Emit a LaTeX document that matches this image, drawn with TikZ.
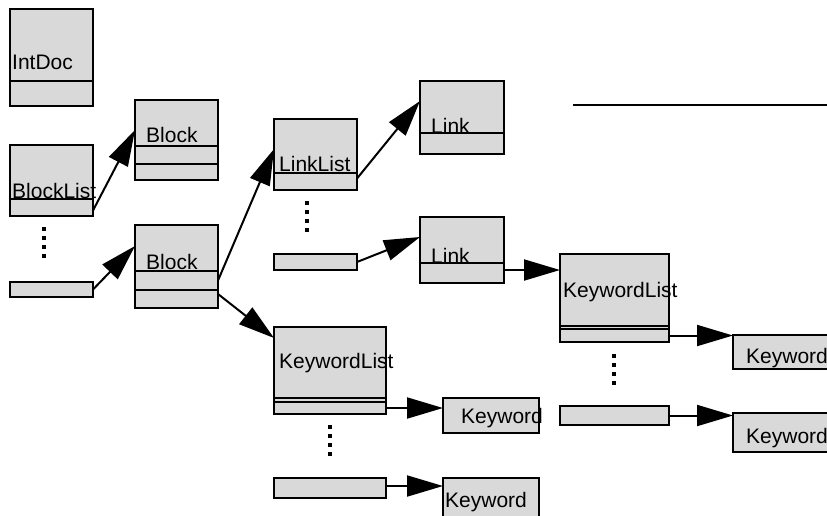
\documentclass[tikz,border=0pt]{standalone}
\usepackage{fontspec}
\setmainfont{Liberation Sans}
\usetikzlibrary{arrows.meta}
\tikzset{cell/.style={fill=black!15, anchor=north west, inner sep=0pt, outer sep=0pt}}
\tikzset{rim/.style={draw=black, line width=2.4pt}}
\tikzset{lbl/.style={anchor=base west, inner sep=0pt, font=\fontsize{21}{25}\selectfont}}
\tikzset{arr/.style={draw, line width=2pt, -{Triangle[length=36pt,width=21pt]}}}

\begin{document}
\begin{tikzpicture}[x=1pt,y=-1pt]
    \useasboundingbox (0,0) rectangle (827,515);
    \clip (0,0) rectangle (827,515);

    % IntDoc and its list of blocks
    \node[cell, minimum width=83pt, minimum height=72pt] (intdoc) at (10,9) {};
    \node[cell, minimum width=83pt, minimum height=25pt] (intdoc-s) at (10,81) {};
    \node[cell, minimum width=83pt, minimum height=54pt] (blist) at (10,145) {};
    \node[cell, minimum width=83pt, minimum height=17pt] (blist-s) at (10,199) {};
    \node[cell, minimum width=83pt, minimum height=15pt] (elemA) at (10,282) {};

    % blocks
    \node[cell, minimum width=83pt, minimum height=46pt] (blockA) at (135,100) {};
    \node[cell, minimum width=83pt, minimum height=18pt] (blockA-s1) at (135,146) {};
    \node[cell, minimum width=83pt, minimum height=16pt] (blockA-s2) at (135,164) {};
    \node[cell, minimum width=83pt, minimum height=46pt] (blockB) at (135,225) {};
    \node[cell, minimum width=83pt, minimum height=19pt] (blockB-s1) at (135,271) {};
    \node[cell, minimum width=83pt, minimum height=18pt] (blockB-s2) at (135,290) {};

    % links
    \node[cell, minimum width=83pt, minimum height=54pt] (llist) at (274,119) {};
    \node[cell, minimum width=83pt, minimum height=17pt] (llist-s) at (274,173) {};
    \node[cell, minimum width=83pt, minimum height=16pt] (elemB) at (274,254) {};
    \node[cell, minimum width=84pt, minimum height=52pt] (linkA) at (420,81) {};
    \node[cell, minimum width=84pt, minimum height=21pt] (linkA-s) at (420,133) {};
    \node[cell, minimum width=84pt, minimum height=46pt] (linkB) at (420,217) {};
    \node[cell, minimum width=84pt, minimum height=20pt] (linkB-s) at (420,263) {};

    % keywords of the block
    \node[cell, minimum width=112pt, minimum height=71pt] (kwlA) at (274,327) {};
    \node[cell, minimum width=112pt, minimum height=4pt] (kwlA-d) at (274,398) {};
    \node[cell, minimum width=112pt, minimum height=12pt] (kwlA-s) at (274,402) {};
    \node[cell, minimum width=112pt, minimum height=20pt] (elemC) at (274,478) {};
    \node[cell, minimum width=96pt, minimum height=35pt] (kwA) at (443,398) {};
    \node[cell, minimum width=96pt, minimum height=42pt] (kwB) at (443,478) {};

    % keywords of the link
    \node[cell, minimum width=109pt, minimum height=72pt] (kwlB) at (560,254) {};
    \node[cell, minimum width=109pt, minimum height=3pt] (kwlB-d) at (560,326) {};
    \node[cell, minimum width=109pt, minimum height=13pt] (kwlB-s) at (560,329) {};
    \node[cell, minimum width=109pt, minimum height=19pt] (elemD) at (560,406) {};
    \node[cell, minimum width=120pt, minimum height=34pt] (kwC) at (733,335) {};
    \node[cell, minimum width=120pt, minimum height=39pt] (kwD) at (733,413) {};

    % labels
    \node[lbl] (intdoc-l) at (12,69) {IntDoc};
    \node[lbl] (blist-l) at (12,198) {BlockList};
    \node[lbl] (blockA-l) at (146,142) {Block};
    \node[lbl] (blockB-l) at (146,269) {Block};
    \node[lbl] (llist-l) at (279,171) {LinkList};
    \node[lbl] (linkA-l) at (431,133) {Link};
    \node[lbl] (linkB-l) at (431,263) {Link};
    \node[lbl] (kwlA-l) at (279,368) {KeywordList};
    \node[lbl] (kwA-l) at (461,423) {Keyword};
    \node[lbl] (kwB-l) at (445,507) {Keyword};
    \node[lbl] (kwlB-l) at (563,297) {KeywordList};
    \node[lbl] (kwC-l) at (746,363) {Keyword};
    \node[lbl] (kwD-l) at (746,443) {Keyword};

    % outlines over the labels
    \foreach \n in {intdoc,intdoc-s,blist,blist-s,elemA,blockA,blockA-s1,blockA-s2,
        blockB,blockB-s1,blockB-s2,llist,llist-s,elemB,linkA,linkA-s,linkB,linkB-s,
        kwlA,kwlA-d,kwlA-s,elemC,kwA,kwB,kwlB,kwlB-d,kwlB-s,elemD,kwC,kwD}
        \draw[rim] (\n.north west) rectangle (\n.south east);

    % elided list entries
    \foreach \x/\y in {44/229, 307/203, 330/427, 614/356}
        \foreach \k in {0,...,3}
            \fill ({\x-1.6},{\y+9*\k-1.6}) rectangle ++(3.2,3.2);

    % pointers
    \draw[arr] ([yshift=-3pt]blist-s.east) -- ([yshift=-30pt]blockA.north west);
    \draw[arr] (elemA.east) -- ([yshift=-21pt]blockB.north west);
    \draw[arr] (blockB-s1.east) -- ([yshift=-30pt]llist.north west);
    \draw[arr] ([yshift=5pt]blockB-s2.east) -- ([yshift=-11pt]kwlA.north west);
    \draw[arr] ([yshift=3pt]llist-s.east) -- ([yshift=-20pt]linkA.north west);
    \draw[arr] (elemB.east) -- ([yshift=-20pt]linkB.north west);
    \draw[arr] ([yshift=3pt]linkB-s.east) -- ([yshift=3pt]linkB-s.east -| kwlB.west);
    \draw[arr] (kwlA-s.east) -- (kwlA-s.east -| kwA.west);
    \draw[arr] ([yshift=2pt]elemC.east) -- ([yshift=2pt]elemC.east -| kwB.west);
    \draw[arr] (kwlB-s.east) -- (kwlB-s.east -| kwC.west);
    \draw[arr] (elemD.east) -- (elemD.east -| kwD.west);

    % rule
    \coordinate (rule-a) at (573,105);
    \coordinate (rule-b) at (827,105);
    \draw[line width=2.2pt] (rule-a) -- (rule-b);
\end{tikzpicture}
\end{document}
